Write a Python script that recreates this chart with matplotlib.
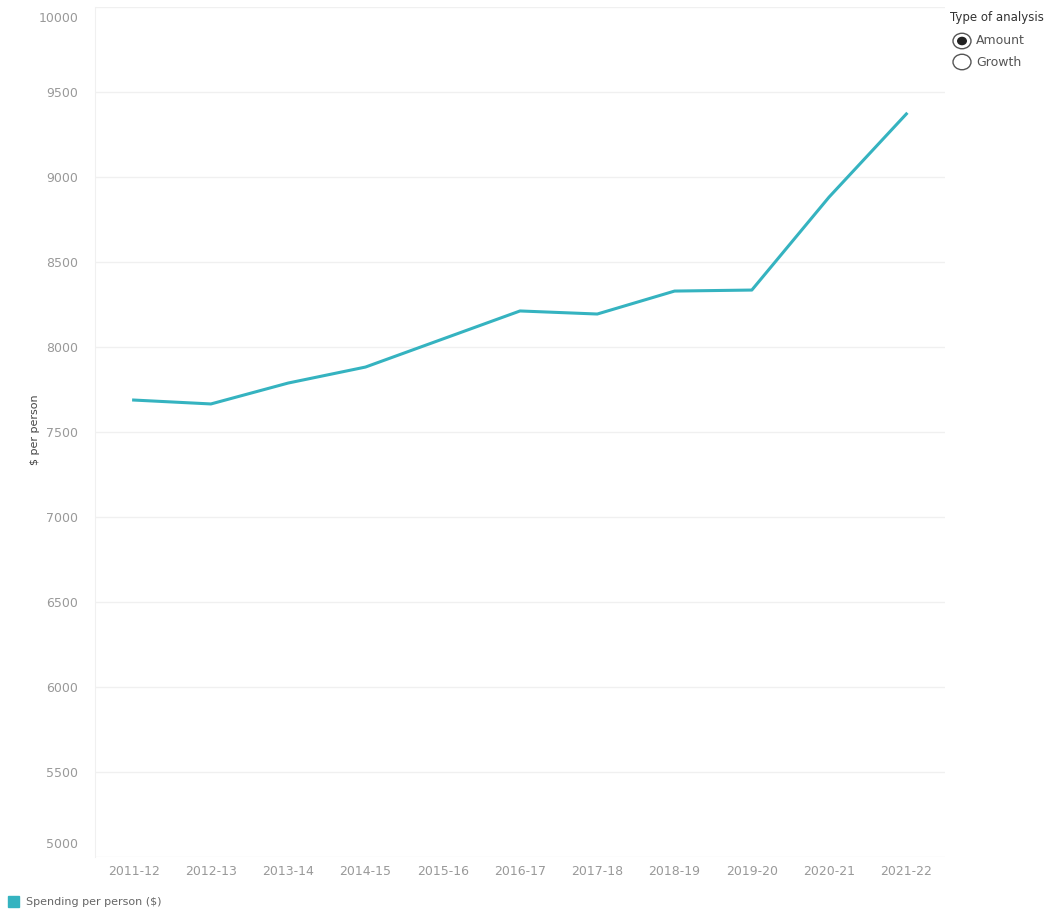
import matplotlib.pyplot as plt
from matplotlib.patches import Circle, Rectangle
from matplotlib.transforms import ScaledTranslation

years = ['2011-12', '2012-13', '2013-14', '2014-15', '2015-16', '2016-17',
         '2017-18', '2018-19', '2019-20', '2020-21', '2021-22']
spending = [7688, 7665, 7788, 7882, 8047, 8212, 8194, 8329, 8335, 8882, 9371]
y_ticks = [5000, 5500, 6000, 6500, 7000, 7500, 8000, 8500, 9000, 9500, 10000]

line_color = '#35b3c0'
tick_color = '#999999'

fig = plt.figure(figsize=(10.62, 9.13), dpi=100)
ax = fig.add_axes([95 / 1062, 1 - 857 / 913, 850 / 1062, 850 / 913])

x = list(range(len(years)))
ax.plot(x, spending, color=line_color, linewidth=2.2, solid_joinstyle='round')

ax.set_xlim(-0.5, 10.5)
ax.set_ylim(5000, 10000)
ax.set_yticks(y_ticks)
ax.set_yticklabels([str(v) for v in y_ticks])
ax.set_xticks(x)
ax.set_xticklabels(years)

ax.tick_params(axis='both', length=0, colors=tick_color, labelsize=9)
ax.tick_params(axis='y', pad=12)
ax.tick_params(axis='x', pad=6)
# tableau pushes the edge labels inside the plot area
labels = ax.get_yticklabels()
labels[0].set_transform(labels[0].get_transform() +
                        ScaledTranslation(0, 0.14, fig.dpi_scale_trans))
labels[-1].set_transform(labels[-1].get_transform() +
                         ScaledTranslation(0, -0.1, fig.dpi_scale_trans))

ax.grid(axis='y', color='#f0f0f0', linewidth=1)
ax.set_axisbelow(True)
for s in ['top', 'right', 'bottom']:
    ax.spines[s].set_visible(False)
ax.spines['left'].set_color('#f0f0f0')

fig.text(35 / 1062, 1 - 430 / 913, '$ per person', fontsize=8, color='#444444',
         rotation=90, ha='center', va='center')

# legend at bottom
fig.patches.append(Rectangle((8 / 1062, 1 - 907 / 913), 11 / 1062, 11 / 913,
                             transform=fig.transFigure, color=line_color))
fig.text(26 / 1062, 1 - 902 / 913, 'Spending per person ($)', fontsize=8,
         color='#666666', va='center')

# parameter control top right
fig.text(950 / 1062, 1 - 17 / 913, 'Type of analysis', fontsize=8.5,
         color='#333333', va='center', fontweight='medium')
for i, opt in enumerate(['Amount', 'Growth']):
    cy = 1 - (41 + i * 21) / 913
    fig.patches.append(Circle((962 / 1062, cy), 9 / 1062, transform=fig.transFigure,
                              facecolor='white', edgecolor='#555555', linewidth=1))
    if i == 0:
        fig.patches.append(Circle((962 / 1062, cy), 5 / 1062, transform=fig.transFigure,
                                  facecolor='#222222', edgecolor='none'))
    fig.text(976 / 1062, cy, opt, fontsize=9, color='#555555', va='center')

fig.savefig('out.png', dpi=100, facecolor='white')
